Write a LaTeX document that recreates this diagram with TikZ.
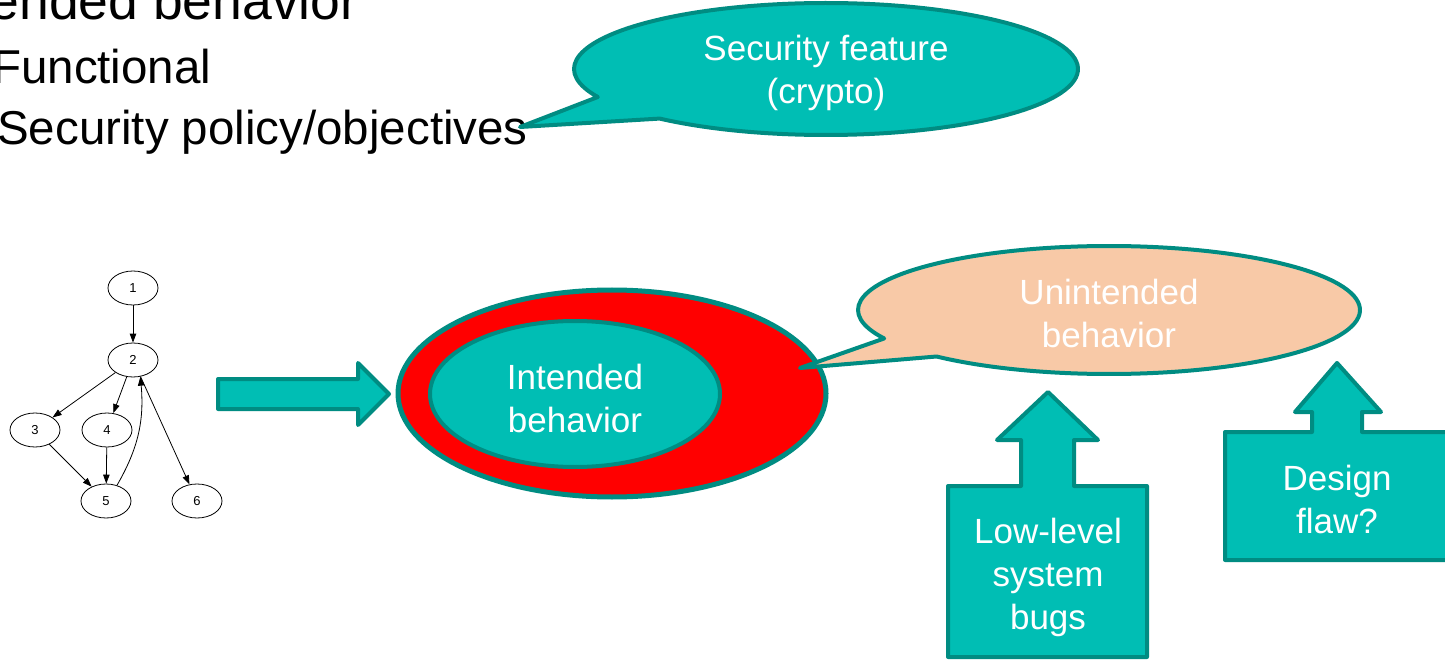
\documentclass[tikz,border=0pt]{standalone}
\usepackage{fontspec}
\setmainfont{Liberation Sans}
\usetikzlibrary{shapes.geometric,arrows.meta,calc}
\definecolor{tealfill}{RGB}{0,190,180}
\definecolor{tealline}{RGB}{0,140,130}
\definecolor{peach}{RGB}{248,201,167}
\definecolor{hotred}{RGB}{255,0,0}
\tikzset{
  shapeline/.style={draw=tealline, line width=4pt, line join=round},
  tealshape/.style={shapeline, fill=tealfill},
  bigtext/.style={align=center, text=white, inner sep=0pt,
    font=\fontsize{35}{43}\selectfont},
  bullet/.style={anchor=base west, inner sep=0pt, text=black},
  gnode/.style={ellipse, draw=black, line width=0.8pt, fill=white,
    minimum width=50pt, minimum height=34pt, inner sep=0pt,
    font=\fontsize{13}{15}\selectfont},
  gedge/.style={draw=black, line width=0.8pt,
    -{Triangle[length=9pt,width=6.5pt]}}
}
\begin{document}
\begin{tikzpicture}[x=1pt,y=1pt]
\useasboundingbox (0,0) rectangle (1445,-660);
\fill[white] (0,0) rectangle (1445,-660);
\clip (0,0) rectangle (1445,-660);

% slide bullet text
\node[bullet, font=\fontsize{53.5}{60}\selectfont] (l0) at (-70,-20) {Intended behavior};
\node[bullet, font=\fontsize{47.5}{54}\selectfont] (l1) at (-8,-84) {Functional};
\node[bullet, font=\fontsize{47.5}{54}\selectfont] (l2) at (-3,-145) {Security policy/objectives};

% callout: security feature
\coordinate (sfc) at (826,-69);
\coordinate (sftip) at (520,-127);
\draw[tealshape] ($(sfc)+(205.1:252 and 66)$) -- (sftip)
  -- ($(sfc)+(228.7:252 and 66)$)
  arc[start angle=228.7, end angle=565.1, x radius=252, y radius=66] -- cycle;
\node[bigtext] (sf) at (826,-73) {Security feature\\(crypto)};

% control flow graph
\node[gnode] (n1) at (133,-288) {1};
\node[gnode] (n2) at (133,-360) {2};
\node[gnode] (n3) at (35,-430) {3};
\node[gnode] (n4) at (107,-430) {4};
\node[gnode] (n5) at (106,-501) {5};
\node[gnode] (n6) at (197,-501) {6};
\draw[gedge] (n1) -- (n2);
\draw[gedge] (n2) -- (n3);
\draw[gedge] (n2) -- (n4);
\draw[gedge] (n2) -- (n6);
\draw[gedge] (n3) -- (n5);
\draw[gedge] (n4) -- (n5);
\draw[gedge] (n5.55) to[out=60,in=-85] (n2.-66);

% block arrow
\draw[tealshape] (218,-379) -- (358,-379) -- (358,-363) -- (389,-394)
  -- (358,-425) -- (358,-409) -- (218,-409) -- cycle;

% behaviour sets
\node[ellipse, draw=tealline, line width=5pt, fill=hotred,
  minimum width=428pt, minimum height=207pt] (all) at (612,-393.5) {};
\node[ellipse, tealshape, minimum width=290pt, minimum height=146pt]
  (intended) at (575,-394) {};
\node[bigtext] (intxt) at (575,-398) {Intended\\behavior};

% callout: unintended behaviour
\coordinate (uc) at (1109,-310);
\coordinate (utip) at (800,-368);
\draw[shapeline, fill=peach] ($(uc)+(206.4:251 and 64)$) -- (utip)
  -- ($(uc)+(226.6:251 and 64)$)
  arc[start angle=226.6, end angle=566.4, x radius=251, y radius=64] -- cycle;
\node[bigtext] (untxt) at (1109,-313) {Unintended\\behavior};

% up-arrow box: low-level bugs
\draw[tealshape] (948,-486) -- (1021,-486) -- (1021,-440) -- (997,-440)
  -- (1048,-392) -- (1098,-440) -- (1074,-440) -- (1074,-486)
  -- (1147,-486) -- (1147,-657) -- (948,-657) -- cycle;
\node[bigtext] (bugs) at (1048,-577) {Low-level\\system\\bugs};

% up-arrow box: design flaw
\draw[tealshape] (1225,-432) -- (1312,-432) -- (1312,-412) -- (1295,-412)
  -- (1337,-363) -- (1381,-412) -- (1362,-412) -- (1362,-432)
  -- (1455,-432) -- (1455,-560) -- (1225,-560) -- cycle;
\node[bigtext] (flaw) at (1337,-499) {Design\\flaw?};
\end{tikzpicture}
\end{document}
